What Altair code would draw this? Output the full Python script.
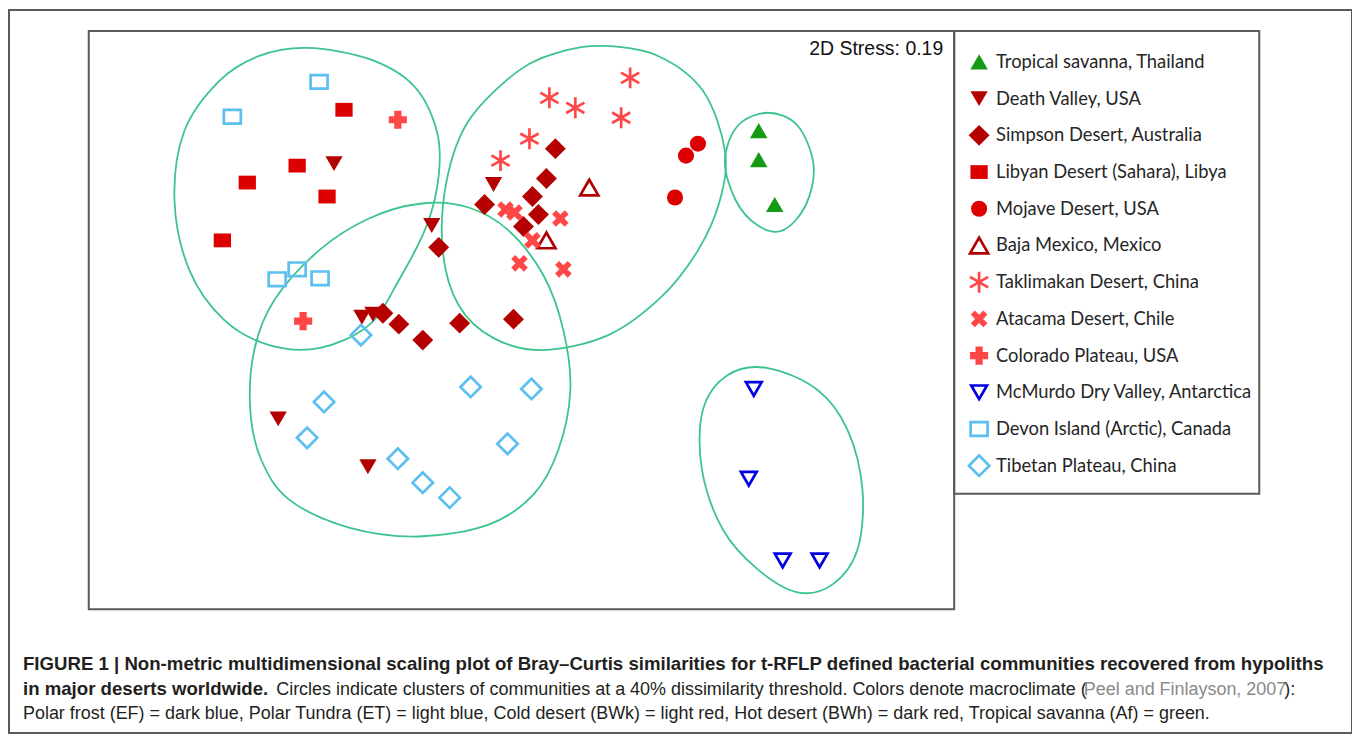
import altair as alt
import pandas as pd

# ---------------- data (NMDS ordination coordinates) -------------
groups = [
    "Tropical savanna, Thailand", "Death Valley, USA", "Simpson Desert, Australia",
    "Libyan Desert (Sahara), Libya", "Mojave Desert, USA", "Baja Mexico, Mexico",
    "Taklimakan Desert, China", "Atacama Desert, Chile", "Colorado Plateau, USA",
    "McMurdo Dry Valley, Antarctica", "Devon Island (Arctic), Canada", "Tibetan Plateau, China",
]

tropical_x = [761, 761, 777]
tropical_y = [130, 159, 204]
death_x = [335, 433, 495, 363, 374, 279, 369]
death_y = [163, 225, 184, 317, 314, 419, 467]
simpson_x = [557, 548, 534, 486, 540, 525, 440, 384, 400, 424, 461, 515]
simpson_y = [148, 178, 196, 204, 214, 226, 247, 313, 324, 340, 323, 319]
libyan_x = [345, 298, 248, 328, 223]
libyan_y = [109, 165, 182, 196, 240]
mojave_x = [700, 688, 677]
mojave_y = [143, 155, 197]
baja_x = [591, 548]
baja_y = [187, 240]
takli_x = [632, 551, 577, 623, 531, 502]
takli_y = [77, 97, 107, 117, 138, 160]
atacama_x = [507, 516, 562, 534, 521, 565]
atacama_y = [209, 212, 218, 240, 263, 269]
colorado_x = [399, 304]
colorado_y = [119, 321]
mcmurdo_x = [756, 751, 785, 822]
mcmurdo_y = [389, 479, 561, 561]
devon_x = [320, 233, 278, 298, 321]
devon_y = [81, 116, 279, 269, 278]
tibet_x = [362, 472, 533, 325, 308, 509, 399, 424, 451]
tibet_y = [335, 387, 389, 402, 438, 444, 459, 483, 498]

# cluster outlines (40% dissimilarity)
blob1_x = [308, 370, 415, 438, 440, 428, 400, 370, 320, 270, 225, 190, 175, 185, 220, 260]
blob1_y = [47, 58, 85, 130, 175, 225, 280, 325, 348, 345, 320, 270, 200, 130, 80, 55]
blob2_x = [423, 470, 510, 545, 565, 572, 560, 535, 490, 420, 350, 290, 262, 251, 255, 275, 320, 370]
blob2_y = [203, 207, 230, 275, 330, 390, 450, 495, 525, 537, 528, 500, 460, 410, 350, 300, 250, 218]
blob3_x = [607, 660, 705, 727, 722, 700, 663, 610, 545, 495, 460, 444, 448, 470, 520, 565]
blob3_y = [45, 55, 90, 150, 200, 250, 297, 335, 350, 338, 305, 250, 180, 120, 70, 50]
blob4_x = [770, 800, 816, 808, 785, 760, 738, 727, 740]
blob4_y = [112, 125, 165, 205, 230, 225, 200, 160, 125]
blob5_x = [770, 820, 850, 865, 860, 835, 800, 760, 725, 704, 705, 730]
blob5_y = [368, 390, 430, 490, 550, 585, 593, 570, 530, 470, 410, 375]

stress_label = "2D Stress: 0.19"

# ---------------- styles ----------------
green = "#149a14"
darkred = "#b50000"
red = "#dd0000"
lightred = "#ff4747"
blue = "#0000e0"
lightblue = "#5bbff0"
outline_col = "#3cc48c"
frame_col = "#5a5a5a"

rect_path = "M-1,-0.8L1,-0.8L1,0.8L-1,0.8Z"
aster_path = "M0,-1L0,1M-0.87,-0.5L0.87,0.5M-0.87,0.5L0.87,-0.5"
xcross_path = ("M0.481,-0.933L0.933,-0.481L0.453,0L0.933,0.481L0.481,0.933L0,0.453"
               "L-0.481,0.933L-0.933,0.481L-0.453,0L-0.933,-0.481L-0.481,-0.933L0,-0.453Z")

shapes = ["triangle-up", "triangle-down", "diamond", rect_path, "circle", "triangle-up",
          aster_path, xcross_path, "cross", "triangle-down", rect_path, "diamond"]
fills = [green, darkred, darkred, red, red, "transparent", "transparent", lightred, lightred,
         "transparent", "transparent", "transparent"]
strokes = ["transparent", "transparent", "transparent", "transparent", "transparent", "#b00000",
           lightred, "transparent", "transparent", blue, lightblue, lightblue]
sizes = [310, 300, 440, 300, 260, 330, 440, 320, 330, 250, 290, 420]

# ---------------- tables ----------------
series = [
    (tropical_x, tropical_y), (death_x, death_y), (simpson_x, simpson_y), (libyan_x, libyan_y),
    (mojave_x, mojave_y), (baja_x, baja_y), (takli_x, takli_y), (atacama_x, atacama_y),
    (colorado_x, colorado_y), (mcmurdo_x, mcmurdo_y), (devon_x, devon_y), (tibet_x, tibet_y),
]
rows = []
for g, (xs_, ys_) in zip(groups, series):
    for xv, yv in zip(xs_, ys_):
        rows.append({"group": g, "x": xv, "y": yv})
pts = pd.DataFrame(rows)

blob_rows = []
for b, (xs_, ys_) in enumerate([(blob1_x, blob1_y), (blob2_x, blob2_y), (blob3_x, blob3_y),
                                 (blob4_x, blob4_y), (blob5_x, blob5_y)]):
    for i, (xv, yv) in enumerate(zip(xs_, ys_)):
        blob_rows.append({"blob": b, "i": i, "x": xv, "y": yv})
blobs = pd.DataFrame(blob_rows)

leg = pd.DataFrame({"group": groups})
one = pd.DataFrame({"a": [0]})

xs = alt.Scale(domain=[89, 957], nice=False, zero=False)
ys = alt.Scale(domain=[30, 610], nice=False, zero=False, reverse=True)

shape_enc = alt.Shape("group:N", scale=alt.Scale(domain=groups, range=shapes), legend=None)
fill_enc = alt.Fill("group:N", scale=alt.Scale(domain=groups, range=fills), legend=None)
stroke_enc = alt.Stroke("group:N", scale=alt.Scale(domain=groups, range=strokes), legend=None)
size_enc = alt.Size("group:N", scale=alt.Scale(type="ordinal", domain=groups, range=sizes),
                    legend=None)

outlines = alt.Chart(blobs).mark_line(
    interpolate="cardinal-closed", color=outline_col, strokeWidth=1.8
).encode(
    x=alt.X("x:Q", scale=xs, axis=None),
    y=alt.Y("y:Q", scale=ys, axis=None),
    detail="blob:N",
    order="i:Q",
)

points = alt.Chart(pts).mark_point(strokeWidth=2.7, opacity=1).encode(
    x=alt.X("x:Q", scale=xs, axis=None),
    y=alt.Y("y:Q", scale=ys, axis=None),
    shape=shape_enc, fill=fill_enc, stroke=stroke_enc, size=size_enc,
)

stress = alt.Chart(one).mark_text(
    text=stress_label, align="right", baseline="alphabetic",
    font="Liberation Sans", fontSize=19.5, color="#111111"
).encode(x=alt.value(857), y=alt.value(24))

leg_y = alt.Y("group:N", scale=alt.Scale(domain=groups, range=[31, 436], padding=0), axis=None)
leg_pts = alt.Chart(leg).mark_point(strokeWidth=2.7, opacity=1).encode(
    x=alt.value(893), y=leg_y,
    shape=shape_enc, fill=fill_enc, stroke=stroke_enc, size=size_enc,
)
leg_txt = alt.Chart(leg).mark_text(
    align="left", baseline="middle", font="Lato", fontSize=18.4, color="#262626"
).encode(x=alt.value(910), y=leg_y, text="group:N")
legend_layer = alt.layer(leg_pts, leg_txt)

legend_box = alt.Chart(one).mark_rect(
    fill="transparent", stroke=frame_col, strokeWidth=2
).encode(x=alt.value(868), x2=alt.value(1174), y=alt.value(0), y2=alt.value(464))

outer_box = alt.Chart(one).mark_rect(
    fill="transparent", stroke=frame_col, strokeWidth=2
).encode(x=alt.value(-80), x2=alt.value(1267), y=alt.value(-21), y2=alt.value(704))

cap_font = "Liberation Sans"
def cap(text, x, y, bold=False, color="#231f20"):
    return alt.Chart(one).mark_text(
        text=text, align="left", baseline="alphabetic", font=cap_font,
        fontSize=18.7 if bold else 18,
        fontWeight="bold" if bold else "normal", color=color
    ).encode(x=alt.value(x), y=alt.value(y))

cap1 = cap("FIGURE 1 | Non-metric multidimensional scaling plot of Bray–Curtis similarities for "
           "t-RFLP defined bacterial communities recovered from hypoliths", -66, 641, bold=True)
cap2a = cap("in major deserts worldwide.", -66, 666, bold=True)
cap2b = cap("Circles indicate clusters of communities at a 40% dissimilarity threshold. "
            "Colors denote macroclimate (", 188, 666)
cap2c = cap("Peel and Finlayson, 2007", 998, 666, color="#8a8a8a")
cap2d = cap("):", 1199, 666)
cap3 = cap("Polar frost (EF) = dark blue, Polar Tundra (ET) = light blue, Cold desert (BWk) = "
           "light red, Hot desert (BWh) = dark red, Tropical savanna (Af) = green.", -66, 690)

chart = alt.layer(
    outer_box, legend_box, outlines, points, stress, legend_layer,
    cap1, cap2a, cap2b, cap2c, cap2d, cap3,
).resolve_scale(y="independent").properties(
    width=868, height=580,
    padding={"left": 81, "top": 22, "right": 399, "bottom": 126},
    autosize=alt.AutoSizeParams(type="none"),
    background="white",
).configure_view(stroke=frame_col, strokeWidth=2)

chart.save("out.html", embed_options={"renderer": "svg", "actions": False})
